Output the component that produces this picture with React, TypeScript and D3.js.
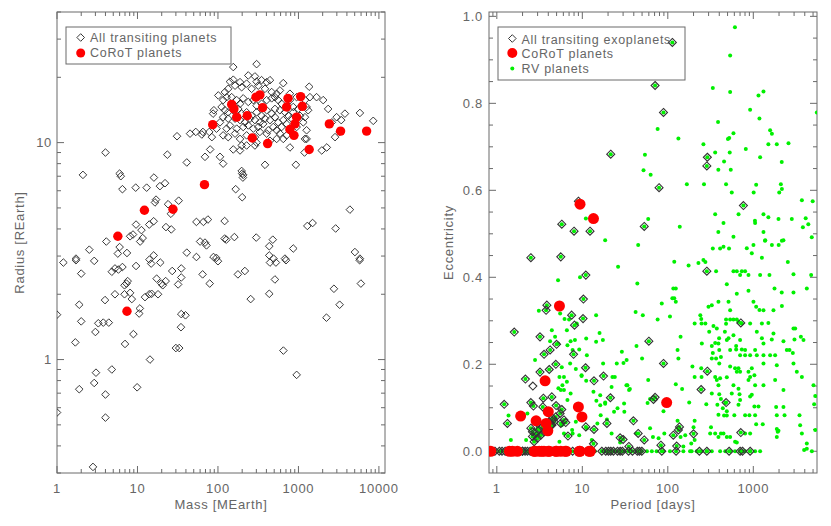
import React from "react";
import * as d3 from "d3";

// transiting planets: [mass (MEarth), radius (REarth)]
const transitMassRadius: [number, number][] = [
  [302, 23], [155, 22.3], [648, 18.8], [1360, 18.1], [141, 19.1], [155, 19.5], [188, 19.0], [238, 20.4], [288, 20.2], [302, 19.1], [348, 19.4], [403, 19.0], [443, 19.4],
  [122, 17.1], [134, 17.7], [163, 18.3], [197, 18.0], [227, 18.7], [262, 17.7], [317, 18.3], [384, 17.7], [465, 17.1], [536, 16.8], [589, 17.4], [784, 16.8], [949, 16.2], [1205, 15.7], [1390, 16.2], [1680, 16.2], [2030, 15.7], [2340, 14.3], [2980, 13.1], [3780, 13.6], [5800, 13.7], [8500, 12.6],
  [101, 16.5], [116, 15.7], [128, 16.2], [148, 16.2], [171, 15.7], [188, 15.1], [206, 16.0], [238, 15.4], [275, 15.7], [302, 14.8], [348, 15.1], [403, 15.7], [465, 16.0], [511, 16.2], [561, 15.7], [618, 15.1], [784, 15.7], [862, 14.6], [995, 14.3], [1263, 14.6], [1320, 14.1],
  [89, 14.1], [111, 14.6], [122, 14.1], [134, 13.8], [155, 14.1], [179, 14.3], [197, 13.6], [227, 13.8], [262, 13.3], [302, 13.8], [348, 13.3], [403, 14.1], [465, 13.6], [511, 14.3], [589, 14.1], [680, 13.8], [750, 13.3], [862, 13.8], [1045, 13.3], [1205, 13.1],
  [87, 13.6], [106, 12.4], [116, 13.1], [134, 12.9], [163, 12.9], [188, 12.7], [216, 12.4], [250, 12.9], [288, 12.7], [332, 12.4], [384, 12.9], [443, 12.7], [511, 13.1], [561, 12.4], [648, 12.7], [713, 12.2], [823, 12.9], [1148, 12.4],
  [78, 11.2], [65, 11.2], [84, 10.6], [96, 11.6], [128, 11.6], [141, 12.0], [171, 11.6], [206, 11.8], [238, 12.0], [275, 11.6], [317, 11.8], [365, 12.2], [422, 11.4], [487, 11.8], [536, 11.4], [618, 11.8], [784, 11.4], [949, 11.8],
  [116, 10.8], [134, 10.6], [163, 11.0], [188, 10.4], [227, 10.8], [288, 10.6], [332, 11.2], [403, 11.0], [589, 11.0], [713, 10.8], [1205, 10.4], [1263, 11.4],
  [69, 8.6], [80, 9.3], [106, 8.6], [116, 8.0], [155, 9.3], [188, 9.2], [197, 9.7], [227, 9.7], [302, 10.0], [443, 10.2], [536, 10.4], [648, 10.4], [784, 9.5], [1263, 10.4], [1950, 9.2], [2250, 9.5], [2850, 10.6], [3250, 11.2], [3400, 12.7], [2600, 12.4],
  [384, 7.9], [930, 7.9], [197, 7.4], [206, 7.1], [288, 9.7], [1190, 9.0],
  [4.0, 9.0], [2.1, 7.1], [6.0, 7.2], [6.2, 7.0], [6.5, 6.1], [9.5, 6.2], [13, 6.2], [16, 6.9], [22, 6.5], [19, 6.3], [23.5, 8.8], [31, 10.7], [41, 8.1], [45, 11], [53, 11.2], [63, 10.9],
  [166, 6.1], [200, 7.2], [204, 6.9], [200, 5.6],
  [4360, 4.91], [1290, 4.13], [1500, 4.26], [2900, 4.02], [480, 3.57], [434, 3.33], [862, 3.25], [5030, 3.13], [5800, 2.92], [680, 2.92], [434, 3.02], [490, 2.92], [88, 2.97], [54, 2.97], [41, 3.11],
  [17, 5.46], [16.5, 5.3], [24, 5.2], [26, 4.7], [32.5, 5.4], [9.6, 4.19], [11.2, 3.95], [14, 4.19], [15.9, 4.34], [4.1, 3.5], [8.1, 3.7], [8.8, 3.77], [10.8, 3.5], [11.6, 3.63], [6.0, 3.3], [22.6, 4.08], [26.3, 3.98],
  [54, 4.31], [66, 4.31], [75, 4.42], [121, 4.35], [60, 3.5], [69, 3.46], [72, 3.36], [121, 3.61], [127, 3.57], [160, 3.67], [2.52, 3.21], [1.72, 2.92], [5.7, 3.08], [7.4, 3.1], [5.25, 2.63],
  [14.1, 2.89], [14.8, 2.77], [15.9, 3.02], [19.2, 2.8], [95.5, 2.94], [100, 2.84], [299, 3.65],
  [1.2, 2.8], [1.72, 2.87], [2.9, 2.85], [2.0, 2.49], [4.8, 2.54], [5.8, 2.6], [6.5, 2.67], [9.6, 2.7], [5.25, 2.0], [3.95, 1.88], [6.9, 2.2], [7.55, 2.3], [7.3, 2.24], [6.9, 2.0], [8.1, 2.03], [8.5, 1.9],
  [12.4, 1.94], [14, 2.0], [15, 2.01], [18, 2.0], [10.7, 1.72], [10.5, 1.63], [17.3, 2.36], [20.6, 2.2], [19.8, 2.24], [22.4, 2.3], [27, 2.56], [35, 2.39], [32, 2.22], [35, 2.63], [35, 1.62], [39.5, 1.6],
  [34.7, 1.41], [30, 1.13], [33, 1.13], [14.3, 1.0], [64.5, 2.47], [79, 2.24], [177, 2.47], [216, 2.56], [255, 1.9], [434, 2.01], [510, 2.34], [443, 2.8], [525, 2.8], [700, 2.87], [650, 1.1], [950, 0.85],
  [2230, 1.56], [2760, 2.12], [3250, 1.79], [5970, 2.24], [5760, 2.87], [1.0, 1.61], [1.69, 1.2], [1.89, 1.79], [2.0, 1.5], [3.0, 1.34], [3.26, 1.47], [3.76, 1.48], [4.4, 1.48], [7.0, 1.18], [8.9, 1.31],
  [3.05, 0.87], [4.8, 0.9], [2.9, 0.78], [1.89, 0.73], [4.0, 0.69], [9.9, 0.745], [4.0, 0.54], [2.8, 0.32], [1.0, 0.57],
];

// CoRoT planets: [mass, radius]
const corotMassRadius: [number, number][] = [
  [86, 12.1], [148, 15.0], [158, 14.3], [171, 13.1], [231, 13.3], [297, 16.2], [332, 16.6], [359, 14.5], [267, 10.5], [414, 9.9], [741, 16.0], [713, 14.6],
  [1065, 16.3], [1115, 14.7], [949, 13.1], [905, 12.2], [784, 11.5], [880, 10.8], [1360, 9.3], [2420, 12.2], [3340, 11.3], [7030, 11.3],
  [68, 6.4], [12.2, 4.88], [27.6, 4.93], [5.7, 3.7], [7.4, 1.67],
];

// transiting planets: [period (days), eccentricity]
const transitPeriodEcc: [number, number][] = [
  [113, 0.94], [71, 0.841], [89, 0.779], [21.5, 0.683], [79, 0.606], [290, 0.676], [286, 0.656], [766, 0.565], [9.0, 0.575], [5.75, 0.522], [8.0, 0.506], [12.3, 0.506], [53, 0.517], [2.5, 0.445], [5.6, 0.447],
  [11.0, 0.405], [10.3, 0.35], [3.85, 0.336], [3.77, 0.324], [1.6, 0.274], [3.2, 0.263], [3.57, 0.223], [4.2, 0.233], [5.0, 0.246], [7.5, 0.313], [8.1, 0.29], [10.2, 0.305], [7.9, 0.223], [4.9, 0.2],
  [4.1, 0.188], [3.2, 0.182], [10.9, 0.192], [13.7, 0.162], [17.7, 0.173], [21.3, 0.123], [2.16, 0.166], [1.22, 0.108], [1.33, 0.064], [4.4, 0.125], [2.5, 0.112], [2.68, 0.104], [3.5, 0.122], [3.45, 0.102],
  [4.94, 0.105], [5.5, 0.087], [4.6, 0.073], [4.4, 0.06], [6.4, 0.066], [6.8, 0.035], [11, 0.056], [13.7, 0.05], [13.5, 0.017], [19.4, 0.064], [30, 0.027], [39.6, 0.07], [45, 0.041], [53, 0.026], [35, 0.011],
  [60, 0.253], [68, 0.119], [71, 0.124], [89, 0.202], [83, 0.014], [133, 0.049], [137, 0.056], [116, 0.037], [127, 0.012], [200, 0.04], [245, 0.142], [290, 0.184], [286, 0.414], [481, 0.112], [714, 0.295],
  [714, 0.043], [5.75, 0.096], [27.7, 0.031],
  [2.61, 0.034], [2.86, 0.041], [3.12, 0.049], [3.42, 0.056], [3.74, 0.064], [4.09, 0.068], [4.47, 0.076], [4.9, 0.079], [2.73, 0.022], [2.99, 0.03], [3.27, 0.037], [3.57, 0.045], [3.91, 0.053], [4.28, 0.06],
  [4.68, 0.068], [5.6, 0.064], [6.1, 0.072], [2.61, 0.045], [2.5, 0.053], [2.99, 0.064],
  [0.95, 0], [1.07, 0], [1.25, 0], [1.43, 0], [1.61, 0], [2.14, 0], [2.45, 0], [2.8, 0], [3.2, 0], [3.67, 0], [4.2, 0], [4.8, 0], [5.5, 0], [16.9, 0], [20.2, 0], [21.5, 0], [23.1, 0], [27.7, 0], [34.7, 0],
  [46.5, 0], [49.6, 0], [85, 0], [125, 0], [234, 0], [286, 0], [521, 0], [701, 0], [747, 0], [918, 0],
  [1.99, 0], [2.28, 0], [2.73, 0], [3.74, 0], [4.28, 0], [6.7, 0], [7.7, 0], [8.8, 0], [10.0, 0], [13.1, 0], [18.8, 0], [25.8, 0], [29.4, 0], [38.6, 0], [44, 0], [1.15, 0], [1.75, 0], [2.0, 0], [3.0, 0], [3.4, 0], [3.5, 0], [4.5, 0],
];

// transiting planet without an RV point (empty diamond)
const transitOnlyPeriodEcc: [number, number][] = [[2.64, 0.15]];

// CoRoT planets: [period, eccentricity]
const corotPeriodEcc: [number, number][] = [
  [9.4, 0.568], [13.5, 0.535], [5.4, 0.334], [3.67, 0.162], [97, 0.112], [9.0, 0.102], [9.9, 0.079], [1.9, 0.081], [2.88, 0.07], [4.0, 0.091], [3.77, 0.064], [3.95, 0.047],
  [0.85, 0], [1.4, 0], [1.52, 0], [1.74, 0], [2.73, 0], [2.8, 0], [3.13, 0], [3.36, 0], [3.56, 0], [4.0, 0], [4.1, 0], [4.9, 0], [5.0, 0], [5.6, 0], [6.3, 0], [6.5, 0], [9.2, 0], [9.4, 0], [12.0, 0], [12.4, 0],
];

// RV planets: [period, eccentricity]
const rvPeriodEcc: [number, number][] = [
  [11, 0.535], [18.5, 0.485], [26.2, 0.424], [5.2, 0.393], [9.4, 0.4],
  [11.1, 0.259], [14.5, 0.252], [17.4, 0.256], [15.9, 0.272], [14.5, 0.313], [8.6, 0.294], [6.2, 0.304], [5.5, 0.317], [6.6, 0.278], [7.3, 0.253], [7.7, 0.233], [8.2, 0.256], [9.2, 0.234], [7.2, 0.202],
  [6.1, 0.171], [6.6, 0.16], [9.8, 0.173], [11.1, 0.162], [13.5, 0.137], [16.2, 0.129], [18.5, 0.109], [22, 0.148], [24, 0.171], [25.3, 0.202], [29, 0.229], [33, 0.21], [33.7, 0.152], [31, 0.091],
  [23.5, 0.091], [16.4, 0.083], [19.4, 0.073], [15, 0.064], [11.3, 0.053], [12.9, 0.026], [22, 0.041], [27.7, 0.02], [6.7, 0.118], [7.3, 0.133], [7.6, 0.049], [5.75, 0.06], [5.4, 0.022], [2.28, 0.087],
  [1.37, 0.082], [4.4, 0.278], [4.2, 0.253], [4.8, 0.263], [5.2, 0.248], [3.5, 0.164], [5.25, 0.145], [5.75, 0.193], [2.8, 0.21], [3.77, 0.096], [3.0, 0.053], [2.2, 0.026], [1.46, 0.026], [11.3, 0.221],
  [3.1, 0.323], [7.0, 0.303], [6.7, 0.244], [5.4, 0.171], [5.85, 0.152], [5.6, 0.141], [6.1, 0.141], [8.4, 0.189], [9.8, 0.175], [14.6, 0.116], [16.2, 0.106], [18.5, 0.112], [25.8, 0.099], [30.8, 0.11],
  [32.8, 0.152], [35.2, 0.141], [30.3, 0.203], [17.5, 0.202], [22.5, 0.171], [8.4, 0.068], [9.2, 0.037], [7.7, 0.041], [6.1, 0.041], [14, 0], [17, 0], [19, 0], [24, 0], [31, 0], [36, 0],
  [610, 0.975], [536, 0.91], [336, 0.835], [536, 0.826], [1150, 0.818], [1315, 0.827], [918, 0.785], [387, 0.757], [1180, 0.765], [76, 0.741], [133, 0.719], [1573, 0.738], [1650, 0.73], [586, 0.731],
  [523, 0.72], [505, 0.718], [261, 0.706], [1500, 0.706], [1883, 0.706], [2580, 0.708], [817, 0.695], [358, 0.687], [530, 0.687], [1202, 0.676], [54, 0.682], [455, 0.666], [2150, 0.665], [390, 0.647],
  [545, 0.647], [52, 0.646], [63, 0.636], [167, 0.614], [265, 0.614], [480, 0.614], [1080, 0.613], [2100, 0.614], [2160, 0.603], [2010, 0.595], [560, 0.595], [1010, 0.595], [3700, 0.577], [4950, 0.575],
  [358, 0.545], [672, 0.545], [1315, 0.545], [1500, 0.538], [1970, 0.534], [2820, 0.534], [4100, 0.536], [1045, 0.53], [1050, 0.525], [59, 0.534], [138, 0.516], [448, 0.525], [4400, 0.522], [3800, 0.515],
  [390, 0.504], [1315, 0.504], [586, 0.493], [2160, 0.484], [1370, 0.484], [4830, 0.492], [5534, 0.779],
  [45, 0.474], [336, 0.466], [409, 0.466], [448, 0.47], [520, 0.466], [839, 0.467], [1004, 0.474], [1380, 0.485], [1650, 0.474], [1980, 0.474], [2250, 0.485], [960, 0.455], [1260, 0.445],
  [119, 0.436], [175, 0.427], [228, 0.433], [261, 0.44], [275, 0.435], [367, 0.414], [586, 0.414], [641, 0.414], [734, 0.414], [802, 0.414], [701, 0.405], [878, 0.405], [1202, 0.405], [1545, 0.405],
  [2535, 0.435], [2951, 0.407], [4750, 0.405], [490, 0.384], [116, 0.374], [124, 0.374], [641, 0.362], [878, 0.369], [1770, 0.374], [2150, 0.365], [2951, 0.365], [4227, 0.374],
  [44, 0.386], [85, 0.34], [113, 0.352], [119, 0.352], [124, 0.344], [42, 0.32], [51, 0.313], [299, 0.332], [327, 0.336], [391, 0.344], [513, 0.344], [1004, 0.344], [1080, 0.332], [1180, 0.325],
  [1315, 0.324], [1721, 0.324], [2160, 0.334], [536, 0.324],
  [240, 0.313], [246, 0.304], [76, 0.303], [106, 0.31], [206, 0.294], [248, 0.294], [275, 0.294], [342, 0.288], [480, 0.303], [536, 0.303], [586, 0.303], [641, 0.303], [671, 0.298], [480, 0.293],
  [734, 0.294], [918, 0.294], [1099, 0.275], [1260, 0.294], [1500, 0.295], [1721, 0.271], [2951, 0.282], [3090, 0.282], [141, 0.263], [305, 0.275], [374, 0.282], [465, 0.275], [398, 0.26], [513, 0.26],
  [586, 0.267], [391, 0.248], [490, 0.256], [701, 0.256], [1260, 0.26], [1315, 0.248], [1645, 0.257], [2253, 0.253], [3030, 0.257], [3600, 0.263], [3864, 0.256], [250, 0.248], [327, 0.242], [358, 0.249], [43, 0.242],
  [130, 0.233], [133, 0.213], [50, 0.213], [336, 0.226], [400, 0.233], [327, 0.213], [367, 0.213], [418, 0.217], [536, 0.233], [630, 0.242], [630, 0.234], [734, 0.234], [802, 0.233], [701, 0.221],
  [802, 0.221], [918, 0.221], [1050, 0.233], [1099, 0.221], [1315, 0.221], [1573, 0.221], [1800, 0.221], [2465, 0.233], [2650, 0.233], [2900, 0.226], [194, 0.195], [246, 0.191], [400, 0.202], [536, 0.195],
  [612, 0.191], [641, 0.183], [671, 0.191], [701, 0.183], [878, 0.183], [960, 0.191], [1315, 0.202], [1883, 0.198], [2951, 0.202], [3228, 0.183], [3700, 0.171], [5058, 0.152], [206, 0.171], [248, 0.171],
  [358, 0.171], [374, 0.164], [391, 0.152], [409, 0.168], [490, 0.17], [586, 0.152], [671, 0.144], [878, 0.164], [918, 0.171], [1030, 0.175], [1050, 0.152], [1315, 0.152], [1800, 0.164], [2253, 0.141],
  [124, 0.154], [147, 0.143], [59, 0.164], [36, 0.143], [58, 0.111], [62, 0.12], [89, 0.092], [327, 0.133], [400, 0.131], [418, 0.12], [380, 0.107], [470, 0.111], [440, 0.099], [490, 0.092], [560, 0.133],
  [690, 0.131], [701, 0.118], [671, 0.107], [918, 0.126], [960, 0.13], [1030, 0.103], [1150, 0.103], [1850, 0.102], [2253, 0.102], [2320, 0.083], [1883, 0.083], [3470, 0.083], [5150, 0.108], [5300, 0.127],
  [178, 0.112], [282, 0.108], [391, 0.084], [455, 0.082], [490, 0.082], [600, 0.083], [802, 0.083], [900, 0.083], [1050, 0.083], [1080, 0.062], [1290, 0.062], [1883, 0.051], [1970, 0.047],
  [130, 0.07], [91, 0.041], [133, 0.053], [160, 0.037], [206, 0.07], [200, 0.055], [206, 0.026], [188, 0.018], [313, 0.041], [320, 0.055], [358, 0.041], [418, 0.041], [391, 0.033], [448, 0.041],
  [490, 0.033], [536, 0.033], [612, 0.022], [641, 0.02], [802, 0.041], [918, 0.041], [1883, 0.033], [1930, 0.045], [3532, 0.06], [3700, 0.041], [4227, 0.018], [5300, 0.049], [3930, 0.003], [4227, 0.006],
  [4840, 0], [43, 0.041], [62, 0.053], [67, 0.033], [78, 0.03], [141, 0.033], [152, 0.011],
  [38, 0], [48, 0], [57, 0], [65, 0], [74, 0], [89, 0], [106, 0], [152, 0], [182, 0], [190, 0], [218, 0], [246, 0], [286, 0], [327, 0], [409, 0], [470, 0], [536, 0], [612, 0], [701, 0], [802, 0],
  [918, 0], [1050, 0], [1202, 0],
];

const massTicks = [1, 10, 100, 1000, 10000];
const radiusTicks = [1, 10];
const periodTicks = [1, 10, 100, 1000];
const eccTicks = [0, 0.2, 0.4, 0.6, 0.8, 1.0];
const leftLegend = ["All transiting planets", "CoRoT planets"];
const rightLegend = ["All transiting exoplanets", "CoRoT planets", "RV planets"];

const W = 831, H = 526;
const TOP = 12, BOTTOM = 473;
const FONT = "'Liberation Sans', Arial, sans-serif";
const TXT = "#666";
const AXIS = "#6a6a6a";
const GREEN = "#00f000";

const logMinor = (domain: number[]) => {
  const out: number[] = [];
  for (let p = Math.floor(Math.log10(domain[0])); p <= Math.ceil(Math.log10(domain[1])); p++) {
    for (let k = 2; k <= 9; k++) {
      const v = k * Math.pow(10, p);
      if (v >= domain[0] && v <= domain[1]) out.push(v);
    }
  }
  return out;
};

const diamond = (s: number) => `M0,${-s}L${s},0L0,${s}L${-s},0Z`;

const Frame = ({ x, y, xMajor, xMinor, yMajor, yMinor, xFmt, yFmt, xTitle, yTitle, yTitleX, yLabelX }: any) => {
  const [x0, x1] = x.range();
  const [y0, y1] = y.range();
  const big = 7, small = 4;
  return (
    <g>
      <rect x={x0} y={y1} width={x1 - x0} height={y0 - y1} fill="none" stroke={AXIS} strokeWidth={1} />
      {xMajor.map((v: number) => (
        <g key={"xM" + v}>
          <line x1={x(v)} x2={x(v)} y1={y0} y2={y0 - big} stroke={AXIS} />
          <line x1={x(v)} x2={x(v)} y1={y1} y2={y1 + big} stroke={AXIS} />
          <text x={x(v)} y={y0 + 20} textAnchor="middle" fontSize={13} fill={TXT} fontFamily={FONT} letterSpacing={0.7}>{xFmt(v)}</text>
        </g>
      ))}
      {xMinor.map((v: number) => (
        <g key={"xm" + v}>
          <line x1={x(v)} x2={x(v)} y1={y0} y2={y0 - small} stroke={AXIS} />
          <line x1={x(v)} x2={x(v)} y1={y1} y2={y1 + small} stroke={AXIS} />
        </g>
      ))}
      {yMajor.map((v: number) => (
        <g key={"yM" + v}>
          <line x1={x0} x2={x0 + big} y1={y(v)} y2={y(v)} stroke={AXIS} />
          <line x1={x1} x2={x1 - big} y1={y(v)} y2={y(v)} stroke={AXIS} />
          <text x={yLabelX} y={y(v)} dy="0.35em" textAnchor="end" fontSize={13} fill={TXT} fontFamily={FONT} letterSpacing={0.7}>{yFmt(v)}</text>
        </g>
      ))}
      {yMinor.map((v: number) => (
        <g key={"ym" + v}>
          <line x1={x0} x2={x0 + small} y1={y(v)} y2={y(v)} stroke={AXIS} />
          <line x1={x1} x2={x1 - small} y1={y(v)} y2={y(v)} stroke={AXIS} />
        </g>
      ))}
      <text x={(x0 + x1) / 2} y={509} textAnchor="middle" fontSize={13} fill={TXT} fontFamily={FONT} letterSpacing={0.7}>{xTitle}</text>
      <text transform={`translate(${yTitleX},${(y0 + y1) / 2}) rotate(-90)`} textAnchor="middle" fontSize={13} fill={TXT} fontFamily={FONT} letterSpacing={0.7}>{yTitle}</text>
    </g>
  );
};

export default function App() {
  // left panel: mass vs radius
  const xL = d3.scaleLog().domain([1, 11900]).range([57, 385]);
  const yL = d3.scaleLog().domain([0.3, 40]).range([BOTTOM, TOP]);
  // right panel: period vs eccentricity
  const xR = d3.scaleLog().domain([0.81, 5560]).range([489, 817]);
  const yR = d3.scaleLinear().domain([-0.05, 1.01]).range([BOTTOM, TOP]);

  const eccMinor = d3.range(1, 20).map((i) => i * 0.05).filter((v) => !eccTicks.some((t) => Math.abs(t - v) < 1e-6));
  const greenAll = [...rvPeriodEcc, ...transitPeriodEcc];

  return (
    <svg width={W} height={H} style={{ position: "absolute", left: 0, top: 0, background: "#fff" }}>
      <defs>
        <clipPath id="clipL"><rect x={57} y={TOP} width={385 - 57} height={BOTTOM - TOP} /></clipPath>
        <clipPath id="clipR"><rect x={489} y={TOP} width={817 - 489} height={BOTTOM - TOP} /></clipPath>
      </defs>

      <Frame x={xL} y={yL} xMajor={massTicks} xMinor={logMinor(xL.domain())} yMajor={radiusTicks} yMinor={logMinor(yL.domain())}
        xFmt={(v: number) => String(v)} yFmt={(v: number) => String(v)} xTitle="Mass [MEarth]" yTitle="Radius [REarth]" yTitleX={24} yLabelX={52} />
      <g clipPath="url(#clipL)">
        {transitMassRadius.map((d, i) => (
          <path key={i} d={diamond(3.8)} transform={`translate(${xL(d[0])},${yL(d[1])})`} fill="none" stroke="#222" strokeWidth={0.9} />
        ))}
        {corotMassRadius.map((d, i) => (
          <circle key={i} cx={xL(d[0])} cy={yL(d[1])} r={4.7} fill="#ff0000" />
        ))}
      </g>
      <g fontFamily={FONT} fontSize={12.5} fill={TXT} letterSpacing={0.7}>
        <rect x={66} y={27} width={165} height={37} fill="none" stroke={AXIS} />
        <path d={diamond(3.8)} transform="translate(80.7,37.5)" fill="none" stroke="#222" strokeWidth={0.9} />
        <text x={90} y={42}>{leftLegend[0]}</text>
        <circle cx={80.7} cy={53} r={4.5} fill="#ff0000" />
        <text x={90} y={57}>{leftLegend[1]}</text>
      </g>

      <Frame x={xR} y={yR} xMajor={periodTicks} xMinor={logMinor(xR.domain())} yMajor={eccTicks} yMinor={eccMinor}
        xFmt={(v: number) => String(v)} yFmt={(v: number) => v.toFixed(1)} xTitle="Period [days]" yTitle="Eccentricity" yTitleX={453} yLabelX={483} />
      <g clipPath="url(#clipR)">
        {greenAll.map((d, i) => (
          <circle key={i} cx={xR(d[0])} cy={yR(d[1])} r={2} fill={GREEN} />
        ))}
        {[...transitPeriodEcc, ...transitOnlyPeriodEcc].map((d, i) => (
          <path key={i} d={diamond(4)} transform={`translate(${xR(d[0])},${yR(d[1])})`} fill="none" stroke="#333" strokeWidth={1.1} />
        ))}
        {corotPeriodEcc.map((d, i) => (
          <circle key={i} cx={xR(d[0])} cy={yR(d[1])} r={5.5} fill="#ff0000" />
        ))}
      </g>
      <g fontFamily={FONT} fontSize={12.5} fill={TXT} letterSpacing={0.7}>
        <rect x={498} y={27} width={187} height={53} fill="none" stroke={AXIS} />
        <path d={diamond(3.8)} transform="translate(512.3,38.5)" fill="none" stroke="#222" strokeWidth={0.9} />
        <text x={521.5} y={43.5}>{rightLegend[0]}</text>
        <circle cx={512.3} cy={53} r={5} fill="#ff0000" />
        <text x={521.5} y={58}>{rightLegend[1]}</text>
        <circle cx={512.3} cy={68.5} r={2} fill={GREEN} />
        <text x={521.5} y={73}>{rightLegend[2]}</text>
      </g>
    </svg>
  );
}
